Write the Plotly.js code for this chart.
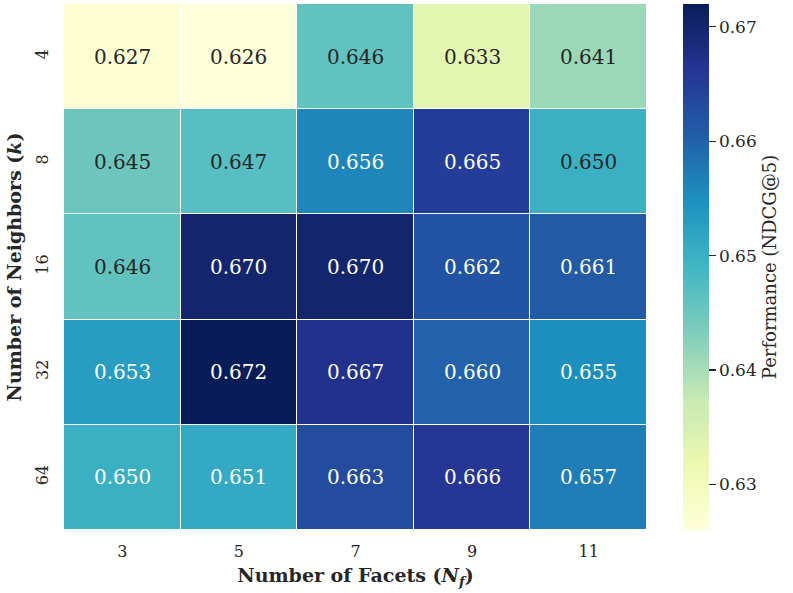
<!DOCTYPE html>
<html><head><meta charset="utf-8">
<script src="https://cdn.plot.ly/plotly-3.0.1.min.js"></script>
<style>body{margin:0;background:#fff}#chart{width:793px;height:593px}</style>
</head><body><div id="chart"></div>
<script>
var facets = ['3','5','7','9','11'];
var neighbors = ['4','8','16','32','64'];
var values = [
  [0.627, 0.626, 0.646, 0.633, 0.641],
  [0.645, 0.647, 0.656, 0.665, 0.650],
  [0.646, 0.670, 0.670, 0.662, 0.661],
  [0.653, 0.672, 0.667, 0.660, 0.655],
  [0.650, 0.651, 0.663, 0.666, 0.657]
];
var darkText = [
  [1,1,1,1,1],
  [1,1,0,0,1],
  [1,0,0,0,0],
  [0,0,0,0,0],
  [0,0,0,0,0]
];
var ylgnbu = [
  [0,'#ffffd9'],[0.125,'#edf8b1'],[0.25,'#c7e9b4'],[0.375,'#7fcdbb'],
  [0.5,'#41b6c4'],[0.625,'#1d91c0'],[0.75,'#225ea8'],[0.875,'#253494'],[1,'#081d58']
];
var font = 'DejaVu Serif';
var zmin = 0.626, zmax = 0.672;
var annotations = [];
for (var i = 0; i < neighbors.length; i++) {
  for (var j = 0; j < facets.length; j++) {
    annotations.push({
      x: j, y: i, xref: 'x', yref: 'y',
      text: values[i][j].toFixed(3), showarrow: false,
      font: {family: font, size: 20, color: darkText[i][j] ? '#262626' : '#ffffff'}
    });
  }
}
var trace = {
  type: 'heatmap', x: facets, y: neighbors, z: values,
  zmin: zmin, zmax: zmax, colorscale: ylgnbu,
  xgap: 1, ygap: 1, hoverinfo: 'none',
  colorbar: {
    x: 1.0617, xanchor: 'left', xpad: 0, ypad: 0,
    y: 0.5, yanchor: 'middle', len: 1, lenmode: 'fraction',
    thickness: 26, outlinewidth: 0,
    tickvals: [0.63, 0.64, 0.65, 0.66, 0.67],
    ticktext: ['0.63','0.64','0.65','0.66','0.67'],
    ticks: 'outside', ticklen: 7, tickwidth: 1.2, tickcolor: '#262626',
    tickfont: {family: font, size: 17, color: '#262626'},
    title: {text: 'Performance (NDCG@5)', side: 'right', font: {family: font, size: 18, color: '#262626'}}
  }
};
var layout = {
  width: 793, height: 593,
  margin: {l: 64, r: 146, t: 4, b: 63},
  paper_bgcolor: '#ffffff', plot_bgcolor: '#ffffff',
  font: {family: font, color: '#262626'},
  annotations: annotations,
  xaxis: {
    type: 'category', categoryarray: facets, range: [-0.5, facets.length - 0.5],
    showgrid: false, zeroline: false, ticks: '', ticklabelstandoff: 10,
    tickfont: {family: font, size: 16, color: '#262626'},
    title: {text: '<b>Number of Facets (<i>N</i><sub><i>f</i></sub>)</b>', font: {family: font, size: 19, color: '#262626'}, standoff: 8}
  },
  yaxis: {
    type: 'category', categoryarray: neighbors, range: [neighbors.length - 0.5, -0.5],
    showgrid: false, zeroline: false, ticks: '', ticklabelstandoff: 12,
    tickangle: -90,
    tickfont: {family: font, size: 16, color: '#262626'},
    title: {text: '<b>Number of Neighbors (<i>k</i>)</b>', font: {family: font, size: 19, color: '#262626'}, standoff: 6}
  }
};
Plotly.newPlot('chart', [trace], layout, {displayModeBar: false, staticPlot: true});
</script>
</body></html>
